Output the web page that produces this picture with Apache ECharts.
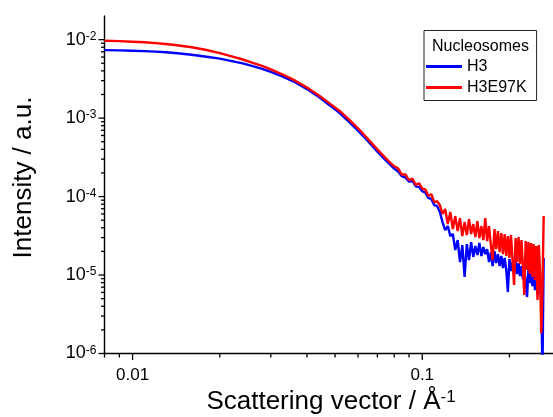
<!DOCTYPE html>
<html><head><meta charset="utf-8">
<script src="https://cdn.jsdelivr.net/npm/echarts@6/dist/echarts.min.js"></script>
<style>html,body{margin:0;padding:0;background:#fff}#chart{width:553px;height:417px}</style>
</head><body><div id="chart"></div>
<script>
// ---------- data ----------
const qValues = [
  0.008, 0.009, 0.010, 0.011, 0.012, 0.013, 0.014, 0.016, 0.018, 0.020,
  0.022, 0.024, 0.026, 0.028, 0.030, 0.033, 0.036, 0.040, 0.044, 0.048,
  0.052, 0.056, 0.060, 0.065, 0.070, 0.075,
  0.080, 0.0825, 0.085, 0.0875, 0.090, 0.0925, 0.095, 0.0975, 0.100, 0.1025,
  0.105, 0.1075, 0.110, 0.1125,
  0.115, 0.1175, 0.120, 0.1225, 0.125, 0.1275, 0.130, 0.1325, 0.135, 0.1375,
  0.140, 0.1425, 0.145, 0.1475, 0.150, 0.1525, 0.155, 0.1575, 0.160, 0.1625,
  0.165, 0.1675, 0.170, 0.1725, 0.175, 0.1775, 0.180, 0.1825, 0.185, 0.1875,
  0.190, 0.1925, 0.195, 0.1975, 0.200, 0.2025, 0.205, 0.2075, 0.210, 0.2125,
  0.215, 0.2175, 0.220, 0.2225, 0.225, 0.2275, 0.230, 0.2325, 0.235, 0.2375,
  0.240, 0.2425, 0.245, 0.2475, 0.250, 0.2525, 0.255, 0.2575, 0.260, 0.2625
];
const h3Values = [
  7.35e-3, 7.29e-3, 7.22e-3, 7.14e-3, 7.04e-3, 6.89e-3, 6.75e-3, 6.42e-3, 6.06e-3, 5.73e-3,
  5.32e-3, 4.97e-3, 4.60e-3, 4.25e-3, 3.88e-3, 3.38e-3, 2.92e-3, 2.34e-3, 1.85e-3, 1.45e-3,
  1.15e-3, 8.89e-4, 6.93e-4, 5.09e-4, 3.74e-4, 2.87e-4,
  2.27e-4, 2.09e-4, 1.82e-4, 1.74e-4, 1.55e-4, 1.58e-4, 1.35e-4, 1.32e-4, 1.17e-4, 1.12e-4,
  9.55e-5, 9.33e-5, 7.76e-5, 7.59e-5,
  6.35e-5, 4.73e-5, 3.74e-5, 4.21e-5, 3.14e-5, 3.33e-5, 2.08e-5, 2.79e-5, 1.46e-5, 2.41e-5,
  9.43e-6, 2.48e-5, 1.55e-5, 2.63e-5, 1.70e-5, 2.34e-5, 1.80e-5, 2.56e-5, 1.75e-5, 2.27e-5,
  1.85e-5, 2.14e-5, 1.46e-5, 1.96e-5, 1.30e-5, 2.02e-5, 1.42e-5, 1.85e-5, 1.30e-5, 1.75e-5,
  1.23e-5, 1.65e-5, 1.16e-5, 6.07e-6, 1.60e-5, 1.12e-5, 1.46e-5, 1.06e-5, 1.51e-5, 1.03e-5,
  1.42e-5, 9.71e-6, 1.30e-5, 8.89e-6, 1.23e-5, 8.39e-6, 5.24e-6, 1.16e-5, 7.91e-6, 1.09e-5,
  7.24e-6, 1.00e-5, 6.44e-6, 9.43e-6, 5.56e-6, 8.64e-6, 7.46e-6, 4.80e-6, 6.2e-7, 1.65e-5
];
const h3e97kValues = [
  9.66e-3, 9.57e-3, 9.40e-3, 9.24e-3, 9.03e-3, 8.79e-3, 8.53e-3, 8.00e-3, 7.37e-3, 6.73e-3,
  6.11e-3, 5.58e-3, 5.06e-3, 4.62e-3, 4.17e-3, 3.59e-3, 3.07e-3, 2.45e-3, 1.94e-3, 1.53e-3,
  1.224e-3, 9.46e-4, 7.42e-4, 5.40e-4, 3.99e-4, 3.05e-4,
  2.43e-4, 2.29e-4, 1.91e-4, 1.91e-4, 1.62e-4, 1.70e-4, 1.41e-4, 1.48e-4, 1.26e-4, 1.23e-4,
  1.02e-4, 1.07e-4, 8.51e-5, 8.71e-5,
  7.79e-5, 5.99e-5, 6.93e-5, 4.46e-5, 6.35e-5, 3.85e-5, 5.64e-5, 3.63e-5, 5.32e-5, 3.14e-5,
  4.73e-5, 3.23e-5, 5.17e-5, 3.33e-5, 4.46e-5, 3.05e-5, 4.87e-5, 2.96e-5, 4.21e-5, 2.79e-5,
  5.32e-5, 2.71e-5, 4.21e-5, 2.41e-5, 1.55e-5, 3.85e-5, 2.14e-5, 3.63e-5, 1.96e-5, 3.43e-5,
  1.85e-5, 3.33e-5, 1.75e-5, 3.14e-5, 1.65e-5, 3.23e-5, 1.51e-5, 7.46e-6, 2.96e-5, 1.46e-5,
  3.05e-5, 1.38e-5, 2.79e-5, 1.30e-5, 5.56e-6, 2.71e-5, 1.16e-5, 2.63e-5, 1.03e-5, 2.56e-5,
  9.43e-6, 2.48e-5, 8.64e-6, 2.34e-5, 4.80e-6, 2.41e-5, 1.16e-5, 1.82e-6, 6.44e-6, 5.64e-5
];
const seriesNames = ['H3', 'H3E97K'];
const legendTitle = 'Nucleosomes';
const xAxisTitle = 'Scattering vector / Å';
const xAxisTitleSup = '-1';
const yAxisTitle = 'Intensity / a.u.';
const xMin = 0.008, xMax = 0.2827;
const yMin = 1e-6, yMax = 0.02;
const xMajorTicks = [0.01, 0.1];
const xMinorTicks = [0.008, 0.009, 0.02, 0.03, 0.04, 0.05, 0.06, 0.07, 0.08, 0.09, 0.2];
const yMajorTicks = [1e-6, 1e-5, 1e-4, 1e-3, 1e-2];
const yMinorTicks = [
  2e-6, 3e-6, 4e-6, 5e-6, 6e-6, 7e-6, 8e-6, 9e-6,
  2e-5, 3e-5, 4e-5, 5e-5, 6e-5, 7e-5, 8e-5, 9e-5,
  2e-4, 3e-4, 4e-4, 5e-4, 6e-4, 7e-4, 8e-4, 9e-4,
  2e-3, 3e-3, 4e-3, 5e-3, 6e-3, 7e-3, 8e-3, 9e-3
];

// ---------- chart ----------
const FONT = '"Liberation Sans", Arial, Helvetica, sans-serif';
const chart = echarts.init(document.getElementById('chart'), null, {renderer: 'canvas'});

function isPow10(v) {
  const l = Math.log10(v);
  return Math.abs(l - Math.round(l)) < 1e-6;
}

function tickSeries(ticks, len, dir) {
  return {
    type: 'custom',
    silent: true,
    clip: false,
    z: 5,
    data: ticks.map(v => dir === 'x' ? [v, yMin] : [xMin, v]),
    encode: {x: 0, y: 1},
    renderItem: function (params, api) {
      const p = api.coord([api.value(0), api.value(1)]);
      const shape = dir === 'x'
        ? {x1: p[0], y1: p[1], x2: p[0], y2: p[1] + len}
        : {x1: p[0], y1: p[1], x2: p[0] - len, y2: p[1]};
      return {type: 'line', shape: shape, style: {stroke: '#000', lineWidth: 1.3}};
    }
  };
}

const option = {
  animation: false,
  backgroundColor: '#fff',
  grid: {left: 104.5, right: 0, top: 16, bottom: 63.5, containLabel: false, outerBoundsMode: 'none'},
  legend: {
    left: 424, top: 30.5, orient: 'vertical',
    padding: [28, 10, 5, 2],
    itemWidth: 36, itemHeight: 3, itemGap: 5,
    borderColor: '#222', borderWidth: 1,
    selectedMode: false,
    textStyle: {fontSize: 16, fontFamily: FONT, color: '#000', lineHeight: 16},
    data: seriesNames.map(n => ({name: n, icon: 'rect'}))
  },
  xAxis: {
    type: 'log', logBase: 10, min: xMin, max: xMax,
    axisLine: {show: true, lineStyle: {color: '#000', width: 1.4}},
    axisTick: {show: false},
    splitLine: {show: false},
    minorTick: {show: false},
    axisLabel: {
      margin: 13, fontSize: 17, fontFamily: FONT, color: '#000',
      formatter: function (v) {
        if (!isPow10(v)) return '';
        const e = Math.round(Math.log10(v));
        if (!xMajorTicks.some(t => Math.abs(Math.log10(t) - e) < 1e-6)) return '';
        return e < 0 ? Math.pow(10, e).toFixed(-e) : String(Math.pow(10, e));
      }
    }
  },
  yAxis: {
    type: 'log', logBase: 10, min: yMin, max: yMax,
    axisLine: {show: true, lineStyle: {color: '#000', width: 1.4}},
    axisTick: {show: false},
    splitLine: {show: false},
    minorTick: {show: false},
    axisLabel: {
      margin: 8, fontFamily: FONT, color: '#000',
      formatter: function (v) {
        if (!isPow10(v)) return '';
        const e = Math.round(Math.log10(v));
        return '{b|10}{s|' + e + '}';
      },
      rich: {
        b: {fontSize: 18, lineHeight: 18, fontFamily: FONT, color: '#000', verticalAlign: 'bottom'},
        s: {fontSize: 12, lineHeight: 12, fontFamily: FONT, color: '#000', verticalAlign: 'top', padding: [0, 0, 10, 0]}
      }
    }
  },
  graphic: [
    {
      type: 'text', x: 24, y: 177.5, rotation: Math.PI / 2,
      style: {text: yAxisTitle, font: '26px ' + FONT, fill: '#000', align: 'center', verticalAlign: 'middle'}
    },
    {
      type: 'text', x: 331, y: 415,
      style: {
        text: '{a|' + xAxisTitle + '}{s|' + xAxisTitleSup + '}',
        align: 'center', verticalAlign: 'bottom',
        rich: {
          a: {fontSize: 26, lineHeight: 26, fontFamily: FONT, fill: '#000', verticalAlign: 'bottom'},
          s: {fontSize: 17, lineHeight: 17, fontFamily: FONT, fill: '#000', verticalAlign: 'top', padding: [0, 0, 22, 0]}
        }
      }
    },
    {
      type: 'text', x: 480.5, y: 46.7,
      style: {text: legendTitle, font: '16px ' + FONT, fill: '#000', align: 'center', verticalAlign: 'middle'}
    }
  ],
  series: [
    {
      name: seriesNames[0], type: 'line', symbol: 'none', z: 2,
      lineStyle: {color: '#0000ff', width: 2.4},
      itemStyle: {color: '#0000ff'},
      data: qValues.map((q, i) => [q, h3Values[i]])
    },
    {
      name: seriesNames[1], type: 'line', symbol: 'none', z: 3,
      lineStyle: {color: '#ff0000', width: 2.4},
      itemStyle: {color: '#ff0000'},
      data: qValues.map((q, i) => [q, h3e97kValues[i]])
    },
    tickSeries(xMajorTicks, 6.5, 'x'),
    tickSeries(xMinorTicks, 4, 'x'),
    tickSeries(yMajorTicks, 6, 'y'),
    tickSeries(yMinorTicks, 3.5, 'y')
  ]
};
chart.setOption(option);
</script></body></html>
